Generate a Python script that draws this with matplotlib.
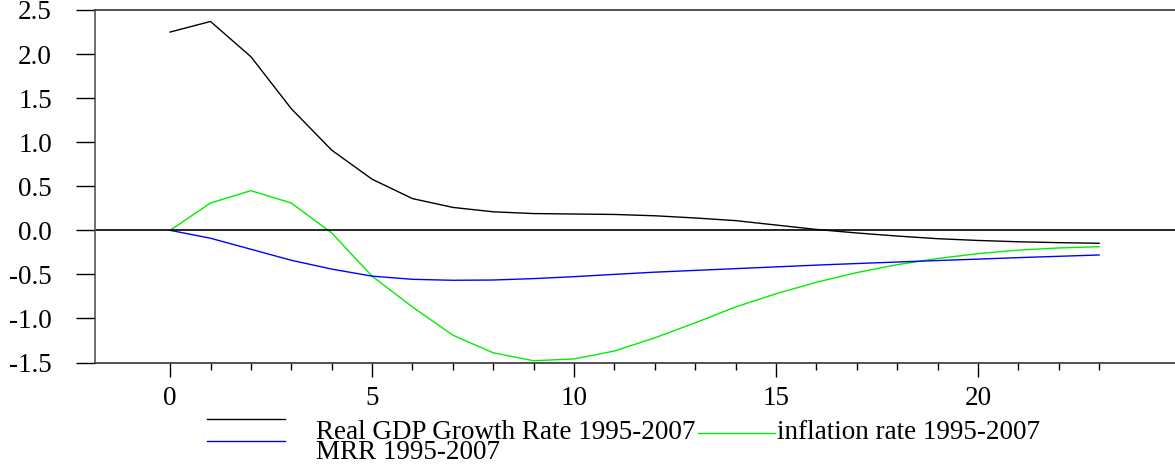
import matplotlib
matplotlib.use('Agg')
import matplotlib.pyplot as plt
from matplotlib.lines import Line2D
from matplotlib.ticker import FixedLocator, FormatStrFormatter

plt.rcParams['font.family'] = ['Liberation Serif', 'DejaVu Serif']

periods = list(range(24))

gdp_growth = [2.25, 2.37, 1.97, 1.38, 0.91, 0.58, 0.36, 0.26, 0.21, 0.19,
              0.185, 0.18, 0.165, 0.14, 0.11, 0.06, 0.01, -0.03, -0.065, -0.095,
              -0.115, -0.13, -0.14, -0.147]
inflation = [0.0, 0.31, 0.45, 0.31, -0.03, -0.52, -0.87, -1.19, -1.39, -1.48,
             -1.46, -1.37, -1.22, -1.05, -0.87, -0.72, -0.59, -0.48, -0.39, -0.32,
             -0.265, -0.225, -0.2, -0.186]
mrr = [0.0, -0.09, -0.215, -0.34, -0.44, -0.52, -0.556, -0.567, -0.564, -0.548,
       -0.526, -0.50, -0.475, -0.455, -0.435, -0.415, -0.395, -0.377, -0.36, -0.343,
       -0.327, -0.31, -0.295, -0.28]

labels = ['Real GDP Growth Rate 1995-2007', 'inflation rate 1995-2007', 'MRR 1995-2007']

W, H = 1175, 469
fig = plt.figure(figsize=(W / 100, H / 100), dpi=100)
ax = fig.add_axes([95 / W, 106.5 / H, 1080 / W, 352.5 / H])

ax.plot(periods, gdp_growth, color='black', lw=1)
ax.plot(periods, inflation, color='#00ee00', lw=1)
ax.plot(periods, mrr, color='blue', lw=1)
ax.axhline(0, color='black', lw=1.2)

ax.set_xlim(-1.86, 24.88)
ax.set_ylim(-1.5, 2.5)
ax.spines['right'].set_visible(False)
for s in ['left', 'top', 'bottom']:
    ax.spines[s].set_linewidth(1.2)
ax.spines['left'].set_color('#555555')
ax.spines['top'].set_color('#333333')
ax.spines['bottom'].set_color('#333333')

ax.set_yticks([-1.5, -1.0, -0.5, 0.0, 0.5, 1.0, 1.5, 2.0, 2.5])
ax.yaxis.set_major_formatter(FormatStrFormatter('%.1f'))
ax.set_xticks([0, 5, 10, 15, 20])
ax.xaxis.set_minor_locator(FixedLocator([i for i in periods if i % 5 != 0]))
ax.tick_params(axis='y', direction='out', length=14, width=1, pad=17, labelsize=19.5)
ax.tick_params(axis='x', which='major', direction='out', length=10, width=1, pad=7, labelsize=19.5)
ax.tick_params(axis='x', which='minor', direction='out', length=5, width=1)

# legend drawn by hand, the layout is not a regular grid
fs = 19.5
fig.add_artist(Line2D([207 / W, 285 / W], [1 - 419 / H, 1 - 419 / H], color='black', lw=1))
fig.add_artist(Line2D([207 / W, 285 / W], [1 - 441 / H, 1 - 441 / H], color='blue', lw=1))
fig.add_artist(Line2D([698 / W, 775 / W], [1 - 432.7 / H, 1 - 432.7 / H], color='#00ee00', lw=1))
fig.text(316 / W, 1 - 438.5 / H, labels[0], fontsize=fs, va='baseline', ha='left')
fig.text(777 / W, 1 - 438.5 / H, labels[1], fontsize=fs, va='baseline', ha='left')
fig.text(316 / W, 1 - 458.5 / H, labels[2], fontsize=fs, va='baseline', ha='left')

fig.savefig('out.png', dpi=100)
